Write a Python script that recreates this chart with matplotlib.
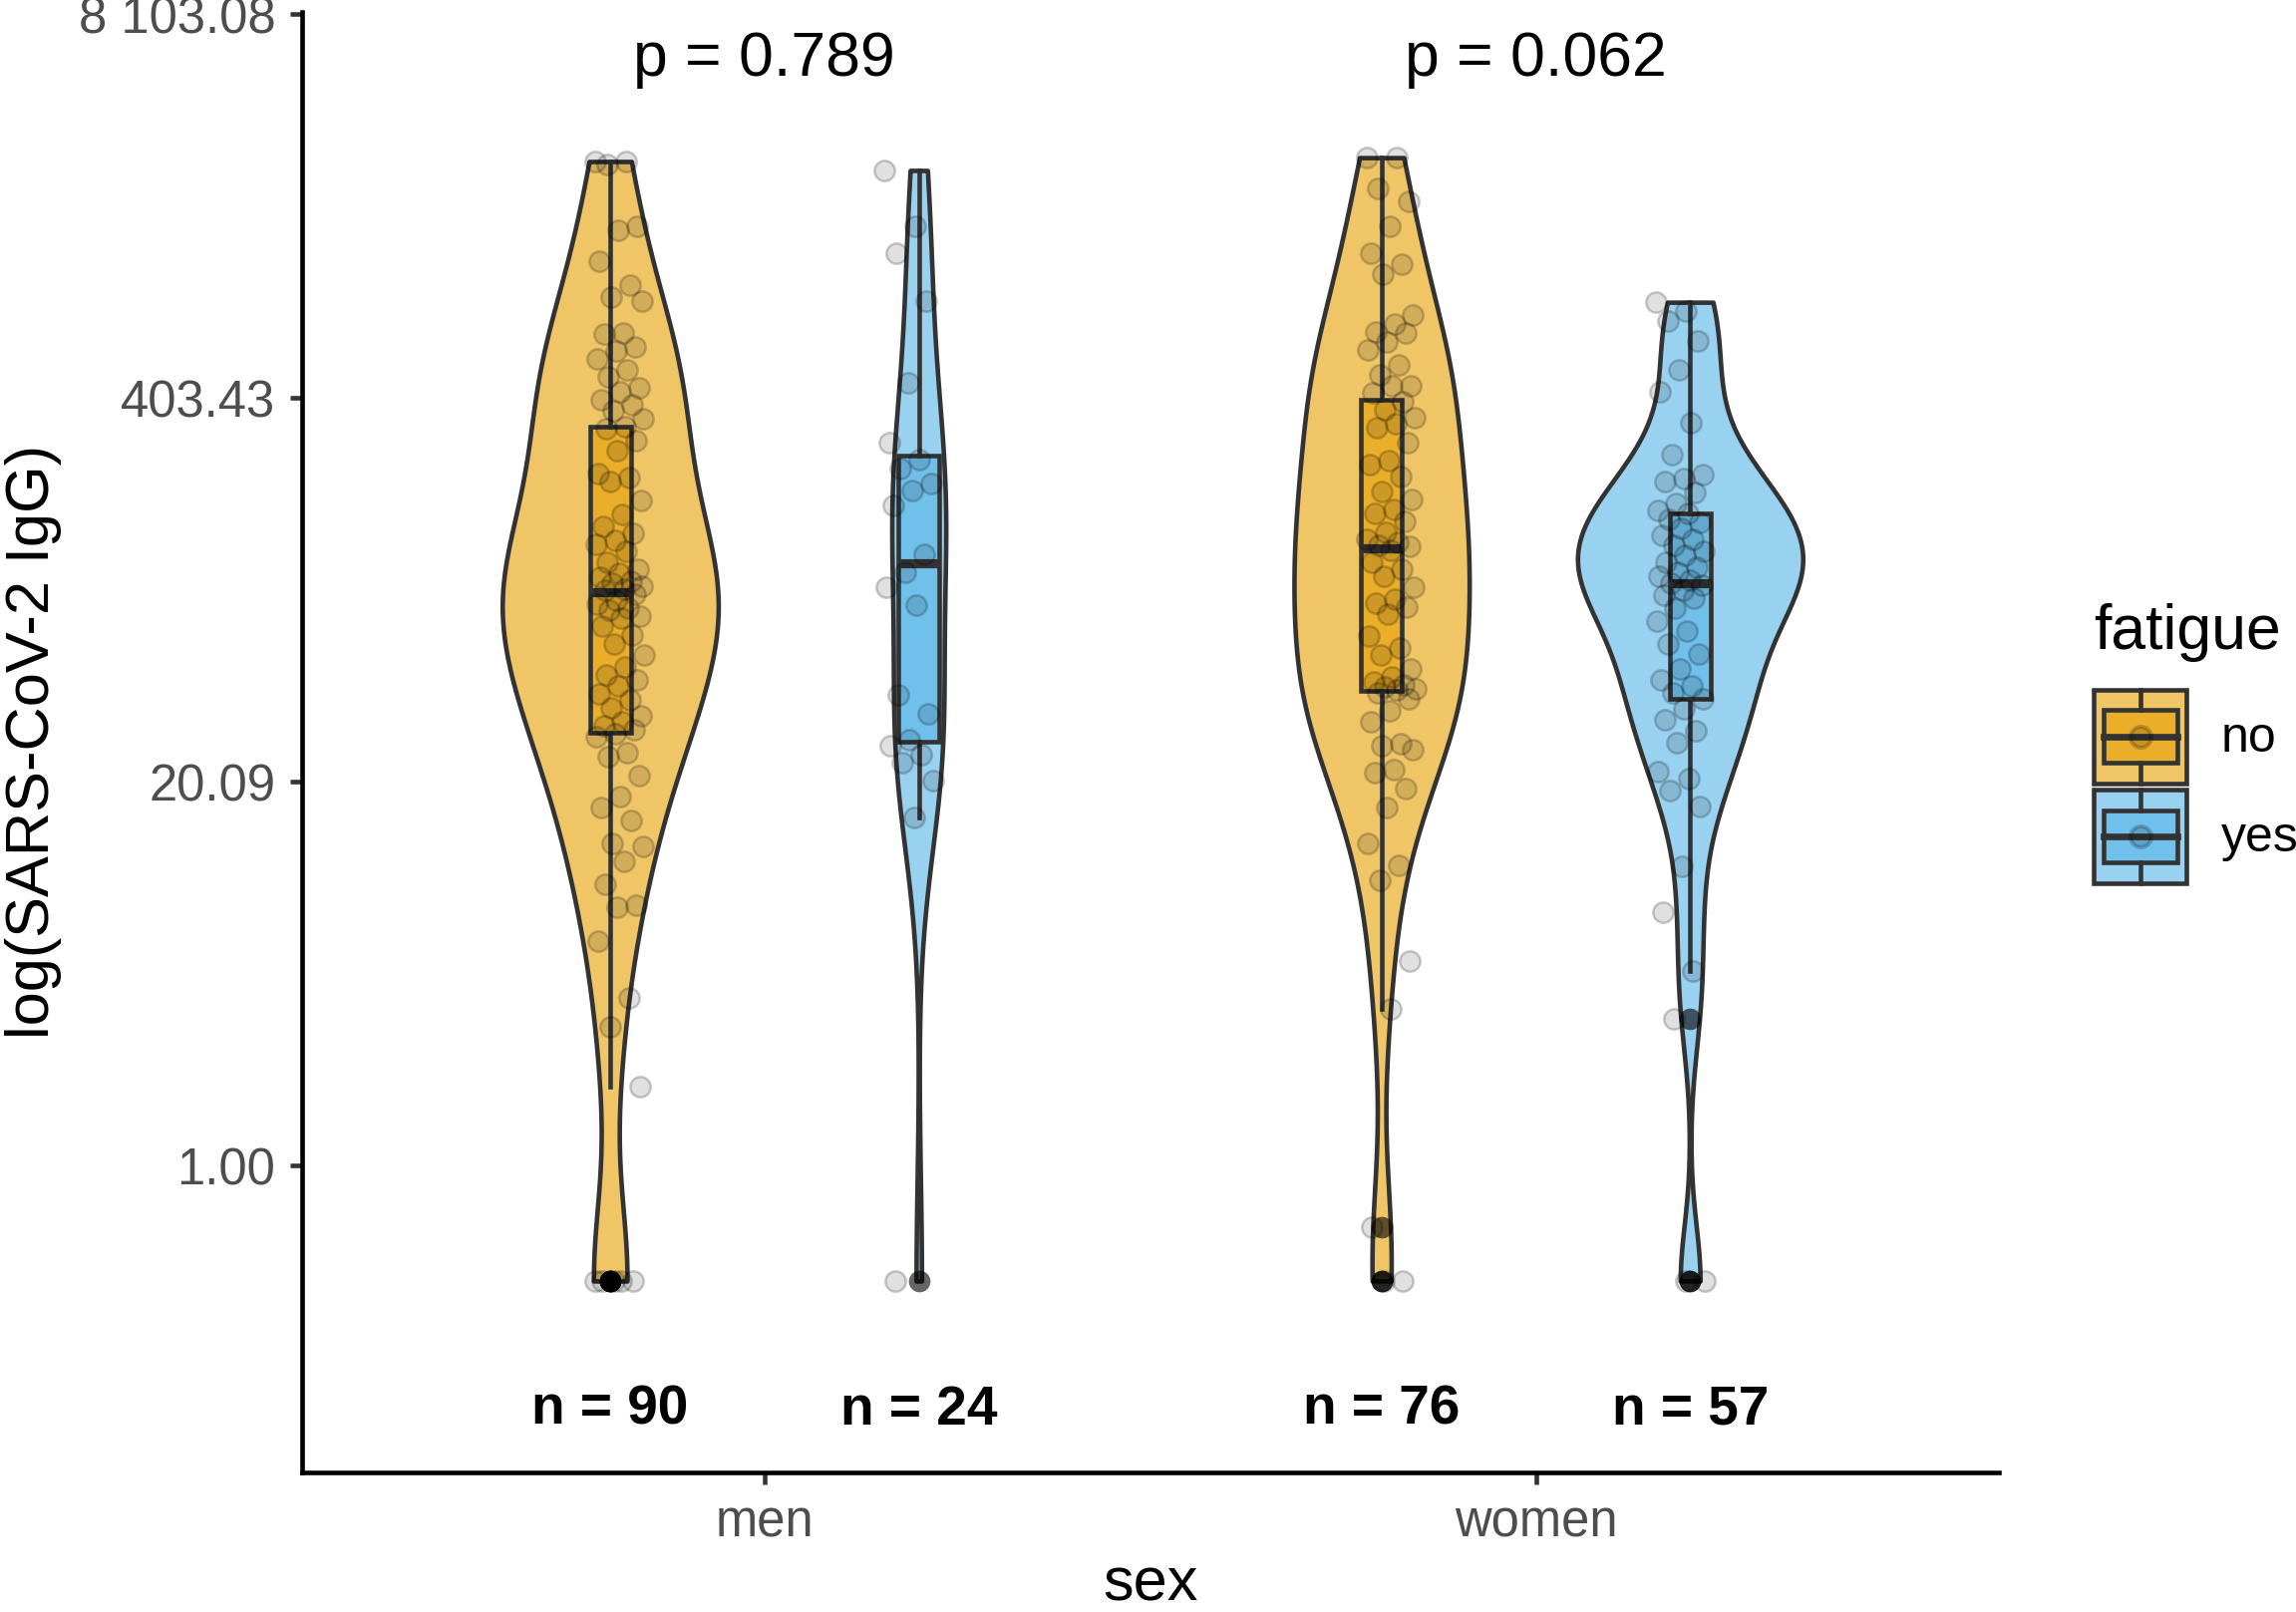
import numpy as np
import matplotlib
matplotlib.use('Agg')
import matplotlib.pyplot as plt
from matplotlib import mlab, cbook
from matplotlib.colors import to_rgba
from matplotlib.patches import Rectangle
from matplotlib.lines import Line2D
from matplotlib.legend_handler import HandlerBase

plt.rcParams['font.family'] = ['Liberation Sans', 'DejaVu Sans']

sex_labels = ['men', 'women']
fatigue_labels = ['no', 'yes']
p_labels = ['p = 0.789', 'p = 0.062']
y_ticks = [0, 3, 6, 9]          # natural log units
y_tick_labels = ['1.00', '20.09', '403.43', '8 103.08']

# ln(IgG) per person
men_no = [7.85, 7.85, 7.83, 7.34, 7.31, 7.07, 6.88, 6.79, 6.76, 6.51, 6.50, 6.40,
          6.37, 6.31, 6.22, 6.17, 6.08, 6.05, 5.99, 5.95, 5.90, 5.84,
          5.78, 5.76, 5.67, 5.59, 5.41, 5.38, 5.35, 5.20, 5.09, 5.00, 4.94, 4.89,
          4.86, 4.80, 4.72, 4.66, 4.63, 4.60, 4.57, 4.55, 4.53, 4.51,
          4.50, 4.47, 4.42, 4.39, 4.36, 4.34, 4.30, 4.28, 4.22, 4.15, 4.08, 3.99,
          3.90, 3.84, 3.80, 3.75, 3.69, 3.64, 3.58, 3.52, 3.47, 3.44, 3.41,
          3.38, 3.35, 3.23, 3.20, 3.05, 2.89, 2.80, 2.70, 2.52, 2.50, 2.38, 2.20,
          2.04, 2.02, 1.76, 1.31, 1.09, 0.62, -0.90, -0.90, -0.90, -0.90, -0.90]
men_yes = [7.78, 7.34, 7.13, 6.76, 6.12, 5.65, 5.52, 5.45, 5.33, 5.28, 5.16, 4.78,
           4.64, 4.52, 4.38, 3.68, 3.53, 3.33, 3.28, 3.21, 3.15, 3.01, 2.72, -0.90]
women_no = [7.88, 7.88, 7.64, 7.54, 7.34, 7.13, 7.05, 6.97, 6.65, 6.58, 6.52, 6.51,
            6.44, 6.38, 6.26, 6.18, 6.10, 6.10, 6.04,
            5.97, 5.91, 5.85, 5.80, 5.77, 5.65, 5.51, 5.48, 5.39, 5.27, 5.21, 5.13,
            5.10, 5.04, 4.95, 4.90, 4.87, 4.85, 4.84,
            4.81, 4.72, 4.66, 4.61, 4.52, 4.43, 4.40, 4.37, 4.31, 4.14, 4.05, 3.99,
            3.88, 3.82, 3.78, 3.76, 3.74, 3.73, 3.72,
            3.70, 3.65, 3.56, 3.47, 3.30, 3.28, 3.25, 3.10, 3.07, 2.95, 2.80, 2.52,
            2.35, 2.23, 1.60, 1.23, -0.48, -0.90, -0.90]
women_yes = [6.75, 6.68, 6.60, 6.45, 6.22, 6.05, 5.81, 5.56, 5.40, 5.37, 5.35, 5.26,
             5.18, 5.12, 5.10,
             5.05, 5.03, 4.98, 4.93, 4.90, 4.85, 4.80, 4.77, 4.72, 4.68, 4.64, 4.61,
             4.58, 4.55,
             4.54, 4.50, 4.46, 4.44, 4.36, 4.26, 4.18, 4.08, 4.00, 3.88, 3.80, 3.75,
             3.70, 3.65,
             3.57, 3.49, 3.40, 3.31, 3.08, 3.03, 2.93, 2.81, 2.34, 1.98, 1.52, 1.15,
             -0.90, -0.90]

groups = [[men_no, men_yes], [women_no, women_yes]]
fill = {'no': '#E69F00', 'yes': '#56B4E9'}
edge = '#333333'
dodge = 0.2
half_w = 0.146

fig = plt.figure(figsize=(2303 / 300, 1617 / 300), dpi=300)
ax = fig.add_axes([0.1314, 0.0863, 0.7391, 0.9064])


def nrd0(x):
    # R's bw.nrd0
    sd = np.std(x, ddof=1)
    q75, q25 = np.percentile(x, [75, 25])
    return 0.9 * min(sd, (q75 - q25) / 1.34) * len(x) ** -0.2, sd


# violins, scaled by count like ggplot scale = "count"
shapes = []
for i, pair in enumerate(groups):
    for j, vals in enumerate(pair):
        v = np.asarray(vals, float)
        bw, sd = nrd0(v)
        kde = mlab.GaussianKDE(v, bw_method=bw / sd)
        yy = np.linspace(v.min(), v.max(), 512)
        shapes.append((i, j, v, yy, kde.evaluate(yy) * len(v)))
top = max(s[4].max() for s in shapes)

for i, j, v, yy, dens in shapes:
    x = i + 1 + (2 * j - 1) * dodge
    c = fill[fatigue_labels[j]]
    w = dens / top * half_w
    ax.fill_betweenx(yy, x - w, x + w, facecolor=to_rgba(c, 0.6),
                     edgecolor=edge, linewidth=1.1, zorder=1)
    st = cbook.boxplot_stats(v, whis=1.5)
    ax.bxp(st, positions=[x], widths=0.053, patch_artist=True, showcaps=False,
           manage_ticks=False, zorder=2,
           boxprops=dict(facecolor=to_rgba(c, 0.6), edgecolor=edge, linewidth=1.1),
           medianprops=dict(color=edge, linewidth=2.2, solid_capstyle='butt'),
           whiskerprops=dict(color=edge, linewidth=1.1),
           flierprops=dict(marker='o', markerfacecolor='black', markeredgecolor='none',
                           markersize=5.2, alpha=0.6))
    n = len(v)
    jit = ((np.arange(n) * 0.6180339887) % 1 * 2 - 1) * 0.032
    ax.scatter(i + 1 + (2 * j - 1) * 0.1875 + jit, v, s=24,
               facecolor=(0, 0, 0, 0.12), edgecolor=(0, 0, 0, 0.2), linewidth=0.6, zorder=3)
    ax.text(x, -1.91, f'n = {n}', ha='center', va='center', fontsize=13.2,
            fontweight='bold')

for i, p in enumerate(p_labels):
    ax.text(i + 1, 8.65, p, ha='center', va='center', fontsize=15)

ax.set_xlim(0.4, 2.6)
ax.set_ylim(-2.40, 9.02)
ax.set_xticks([1, 2], sex_labels)
ax.set_yticks(y_ticks, y_tick_labels)
for s in ['top', 'right']:
    ax.spines[s].set_visible(False)
for s in ['left', 'bottom']:
    ax.spines[s].set_linewidth(1.1)
ax.tick_params(length=2.8, width=1.1, color=edge, labelcolor='#4D4D4D',
               labelsize=12.2, pad=3.5)

fig.text(0.0145, 0.540, 'log(SARS-CoV-2 IgG)', rotation=90, ha='center',
         va='center', fontsize=14.7)
fig.text(0.501, 0.0165, 'sex', ha='center', va='center', fontsize=14.7)


class BoxKey(HandlerBase):
    def __init__(self, color):
        super().__init__()
        self.color = color

    def create_artists(self, legend, orig_handle, xdescent, ydescent, width,
                       height, fontsize, trans):
        x0, y0 = -xdescent, -ydescent
        bg = Rectangle((x0, y0), width, height, facecolor=to_rgba(self.color, 0.6),
                       edgecolor=edge, linewidth=1.1, transform=trans)
        box = Rectangle((x0 + 0.1 * width, y0 + 0.22 * height), 0.8 * width,
                        0.56 * height, facecolor=to_rgba(self.color, 0.6),
                        edgecolor=edge, linewidth=1.1, transform=trans)
        xm, ym = x0 + 0.5 * width, y0 + 0.5 * height
        med = Line2D([x0 + 0.1 * width, x0 + 0.9 * width], [ym, ym], color=edge,
                     linewidth=1.6, transform=trans)
        wlo = Line2D([xm, xm], [y0, y0 + 0.22 * height], color=edge, linewidth=1.1,
                     transform=trans)
        whi = Line2D([xm, xm], [y0 + 0.78 * height, y0 + height], color=edge,
                     linewidth=1.1, transform=trans)
        dot = Line2D([xm], [ym], marker='o', markersize=5, linestyle='none',
                     markerfacecolor=(0, 0, 0, 0.15), markeredgecolor=(0, 0, 0, 0.2),
                     transform=trans)
        return [bg, box, med, wlo, whi, dot]


fig.text(0.912, 1 - 432 / 1101, 'fatigue', ha='left', va='center', fontsize=15)
h_no = Rectangle((0, 0), 1, 1)
h_yes = Rectangle((0, 0), 1, 1)
fig.legend([h_no, h_yes], fatigue_labels,
           handler_map={h_no: BoxKey(fill['no']), h_yes: BoxKey(fill['yes'])},
           loc='upper left', bbox_to_anchor=(0.912, 1 - 471 / 1101), frameon=False,
           fontsize=12, handlelength=1.85, handleheight=2.52,
           labelspacing=0.12, handletextpad=0.7, borderpad=0, borderaxespad=0)

fig.savefig('out.png', dpi=300)
